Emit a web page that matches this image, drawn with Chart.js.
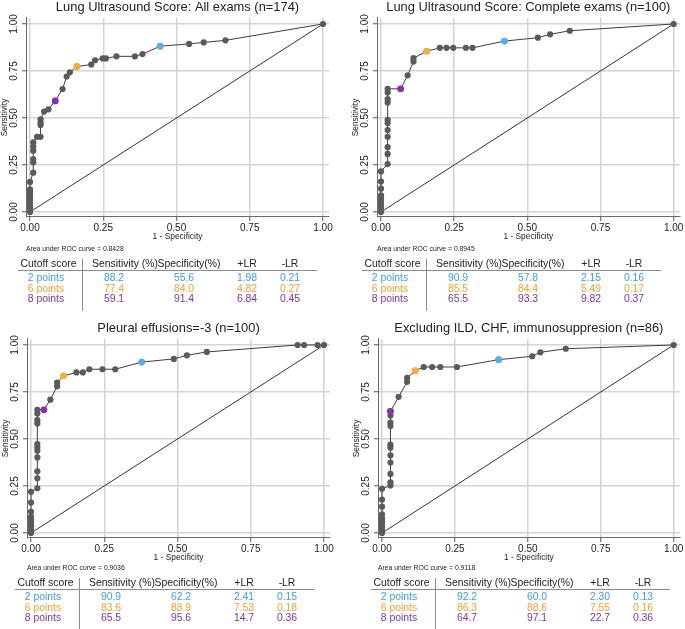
<!DOCTYPE html>
<html>
<head>
<meta charset="utf-8">
<script src="https://cdn.jsdelivr.net/npm/chart.js@4.4.1/dist/chart.umd.min.js"></script>
<style>
  body { margin: 0; width: 685px; height: 629px; background: #fff; overflow: hidden; position: relative;
         font-family: "Liberation Sans", Arial, Helvetica, sans-serif; }
  .panel { position: absolute; }
  .txt { position: absolute; line-height: 1; white-space: nowrap; }
  .rule { position: absolute; background: #8c8c8c; }
</style>
</head>
<body>
<div class="panel" id="p0"><canvas id="c0"></canvas></div>
<div class="panel" id="p1"><canvas id="c1"></canvas></div>
<div class="panel" id="p2"><canvas id="c2"></canvas></div>
<div class="panel" id="p3"><canvas id="c3"></canvas></div>
<script>
// ---- data ----
const titles = [
  'Lung Ultrasound Score: All exams (n=174)',
  'Lung Ultrasound Score: Complete exams (n=100)',
  'Pleural effusions=-3 (n=100)',
  'Excluding ILD, CHF, immunosuppresion (n=86)'
];
const aucs = ['0.8428', '0.8945', '0.9036', '0.9118'];
const axisTicks = [0, 0.25, 0.5, 0.75, 1];
const cutoffLabels = ['2 points', '6 points', '8 points'];
const headers = ['Cutoff score', 'Sensitivity (%)', 'Specificity(%)', '+LR', '-LR'];

// table values per panel (2, 6, 8 points)
const sens = [[88.2, 77.4, 59.1], [90.9, 85.5, 65.5], [90.9, 83.6, 65.5], [92.2, 86.3, 64.7]];
const spec = [[55.6, 84.0, 91.4], [57.8, 84.4, 93.3], [62.2, 88.9, 95.6], [60.0, 88.6, 97.1]];
const plr  = [[1.98, 4.82, 6.84], [2.15, 5.49, 9.82], [2.41, 7.53, 14.7], [2.30, 7.55, 22.7]];
const nlr  = [[0.21, 0.27, 0.45], [0.16, 0.17, 0.37], [0.15, 0.18, 0.36], [0.13, 0.16, 0.36]];

// ROC curves: 1 - specificity and sensitivity
const fpr1 = [0, 0, 0, 0, 0, 0, 0, 0, 0, 0.011, 0.011, 0.011, 0.011, 0.011, 0.011, 0.024, 0.036, 0.036, 0.036, 0.036,
  0.048, 0.063, 0.086, 0.111, 0.125, 0.136, 0.160, 0.209, 0.222, 0.248, 0.259, 0.295, 0.358, 0.384, 0.444, 0.543, 0.593, 0.667, 1];
const tpr1 = [0, 0.02, 0.037, 0.055, 0.073, 0.09, 0.108, 0.12, 0.16, 0.209, 0.264, 0.282, 0.326, 0.348, 0.371, 0.40, 0.40, 0.463, 0.475, 0.493,
  0.534, 0.546, 0.591, 0.654, 0.72, 0.743, 0.774, 0.784, 0.807, 0.817, 0.817, 0.828, 0.828, 0.840, 0.882, 0.894, 0.902, 0.913, 1];

const fpr2 = [0, 0, 0, 0, 0, 0, 0, 0, 0, 0.0227, 0.0227, 0.0227, 0.0227, 0.0227, 0.0227, 0.0227, 0.0227, 0.0227, 0.0227, 0.0227,
  0.067, 0.091, 0.111, 0.111, 0.156, 0.201, 0.224, 0.247, 0.29, 0.3125, 0.422, 0.536, 0.578, 0.645, 1];
const tpr2 = [0, 0.02, 0.037, 0.055, 0.073, 0.089, 0.124, 0.162, 0.216, 0.255, 0.309, 0.345, 0.40, 0.436, 0.473, 0.49, 0.582, 0.60, 0.636, 0.655,
  0.655, 0.727, 0.80, 0.818, 0.855, 0.873, 0.873, 0.873, 0.873, 0.873, 0.909, 0.927, 0.945, 0.964, 1];

const fpr3 = [0, 0, 0, 0, 0, 0, 0, 0, 0, 0.0216, 0.0216, 0.0216, 0.0216, 0.0216, 0.0216, 0.0216, 0.0216, 0.0216, 0.0216, 0.0216,
  0.044, 0.066, 0.089, 0.089, 0.111, 0.155, 0.177, 0.199, 0.244, 0.2875, 0.378, 0.4875, 0.532, 0.6, 0.91, 0.932, 0.978, 1];
const tpr3 = [0, 0.016, 0.034, 0.051, 0.069, 0.086, 0.113, 0.162, 0.219, 0.238, 0.291, 0.328, 0.402, 0.437, 0.455, 0.473, 0.582, 0.6, 0.635, 0.655,
  0.655, 0.709, 0.78, 0.80, 0.836, 0.854, 0.854, 0.871, 0.871, 0.871, 0.909, 0.926, 0.945, 0.963, 1, 1, 1, 1];

const fpr4 = [0, 0, 0, 0, 0, 0, 0, 0, 0, 0, 0.029, 0.029, 0.029, 0.029, 0.029, 0.029, 0.029, 0.029, 0.029, 0.029, 0.029,
  0.057, 0.086, 0.086, 0.114, 0.143, 0.172, 0.2, 0.257, 0.40, 0.515, 0.543, 0.63, 1];
const tpr4 = [0, 0.016, 0.03, 0.046, 0.062, 0.078, 0.099, 0.14, 0.178, 0.235, 0.253, 0.27, 0.314, 0.375, 0.413, 0.454, 0.47, 0.569, 0.587, 0.625, 0.647,
  0.724, 0.804, 0.825, 0.863, 0.883, 0.883, 0.883, 0.883, 0.922, 0.94, 0.961, 0.98, 1];

const fprs = [fpr1, fpr2, fpr3, fpr4];
const tprs = [tpr1, tpr2, tpr3, tpr4];

// ---- layout / style ----
const cutColors = ['#56b0e4', '#f7ad3a', '#8a2fb0'];
const textColors = ['#3f9fdc', '#f3a232', '#7c35a8'];
const panels = [
  { left: 0,   top: 0,   w: 340, padR: 11, vx: 82,  ty: 0 },
  { left: 351, top: 0,   w: 334, padR: 5,  vx: 426, ty: 0 },
  { left: 1,   top: 321, w: 340, padR: 11, vx: 79,  ty: 319 },
  { left: 352, top: 321, w: 333, padR: 4,  vx: 435, ty: 319 }
];
const H = 245;

Chart.defaults.font.family = '"Liberation Sans", Arial, Helvetica, sans-serif';
Chart.defaults.color = '#222';

function axis(min, max, isX) {
  return {
    type: 'linear',
    position: isX ? 'bottom' : 'left',
    min: min,
    max: max,
    afterBuildTicks: s => { s.ticks = axisTicks.map(v => ({ value: v })); },
    afterFit: s => { if (isX) s.height = 28; else s.width = 26; },
    grid: { color: '#d3d3d3', lineWidth: 1.5, tickColor: '#555', tickLength: 4, tickWidth: 1 },
    border: { display: true, color: '#6a6a6a', width: 1 },
    ticks: isX
      ? { maxRotation: 0, padding: 1.5, font: { size: 10 }, color: '#222', callback: v => v.toFixed(2) }
      : { minRotation: 90, maxRotation: 90, crossAlign: 'center', padding: -2, font: { size: 10 }, color: '#222', callback: v => v.toFixed(2) },
    title: isX
      ? { display: true, text: '1 - Specificity', font: { size: 8.4 }, color: '#222', padding: { top: 0, bottom: 3 } }
      : { display: true, text: 'Sensitivity', font: { size: 8.4 }, color: '#222', padding: { top: 0, bottom: 0 } }
  };
}

function addText(txt, x, y, size, color, leftAlign) {
  const d = document.createElement('div');
  d.className = 'txt';
  d.textContent = txt;
  d.style.left = x + 'px';
  d.style.top = y + 'px';
  d.style.fontSize = size + 'px';
  d.style.color = color;
  d.style.transform = leftAlign ? 'translate(0,-50%)' : 'translate(-50%,-50%)';
  document.body.appendChild(d);
}

function addRule(x, y, w, h) {
  const d = document.createElement('div');
  d.className = 'rule';
  d.style.left = x + 'px';
  d.style.top = y + 'px';
  d.style.width = w + 'px';
  d.style.height = h + 'px';
  document.body.appendChild(d);
}

panels.forEach((p, i) => {
  const wrap = document.getElementById('p' + i);
  wrap.style.left = p.left + 'px';
  wrap.style.top = p.top + 'px';
  const cv = document.getElementById('c' + i);
  cv.width = p.w;
  cv.height = H;

  const curve = fprs[i].map((x, k) => ({ x: x, y: tprs[i][k] }));
  const cuts = sens[i].map((s, k) => ({ x: 1 - spec[i][k] / 100, y: s / 100 }));

  new Chart(cv, {
    type: 'scatter',
    data: {
      datasets: [
        { data: cuts, pointRadius: 3.4, pointBackgroundColor: cutColors, pointBorderWidth: 0, showLine: false },
        { data: curve, showLine: true, borderColor: '#3c3c3c', borderWidth: 1, pointRadius: 3.1,
          pointBackgroundColor: '#5a5a5a', pointBorderWidth: 0 },
        { data: [{ x: 0, y: 0 }, { x: 1, y: 1 }], showLine: true, borderColor: '#333', borderWidth: 1, pointRadius: 0 }
      ]
    },
    options: {
      responsive: false,
      animation: false,
      layout: { padding: { left: 0, right: p.padR, top: 0, bottom: 0 } },
      plugins: {
        legend: { display: false },
        tooltip: { enabled: false },
        title: { display: true, text: titles[i], fullSize: false, font: { size: 12.9, weight: 'normal' },
                 color: '#222', padding: { top: 0, bottom: 2.5 } }
      },
      scales: {
        x: axis(-0.0137, 1.0205, true),
        y: axis(-0.0266, 1.0319, false)
      }
    }
  });

  // table under each plot
  const areaLeft = p.left + 26;
  const vx = p.vx, ty = p.ty;
  addText('Area under ROC curve = ' + aucs[i], areaLeft, 249 + ty, 6.8, '#222', true);
  const hx = [vx - 33.5, vx + 43, vx + 107, vx + 165, vx + 208];
  headers.forEach((h, k) => addText(h, hx[k], 264 + ty, 10.4, '#222', false));
  addRule(vx - 64, 270 + ty, 299, 1);
  addRule(vx, 259 + ty, 1, 52);
  const rowY = [278, 288.7, 299.3];
  const cx = [vx - 36, vx + 32, vx + 102, vx + 165, vx + 208];
  cutoffLabels.forEach((lab, r) => {
    const y = rowY[r] + ty;
    const col = textColors[r];
    addText(lab, cx[0], y, 10.4, col, false);
    addText(sens[i][r].toFixed(1), cx[1], y, 10.4, col, false);
    addText(spec[i][r].toFixed(1), cx[2], y, 10.4, col, false);
    addText(plr[i][r].toPrecision(3), cx[3], y, 10.4, col, false);
    addText(nlr[i][r].toFixed(2), cx[4], y, 10.4, col, false);
  });
});
</script>
</body>
</html>
